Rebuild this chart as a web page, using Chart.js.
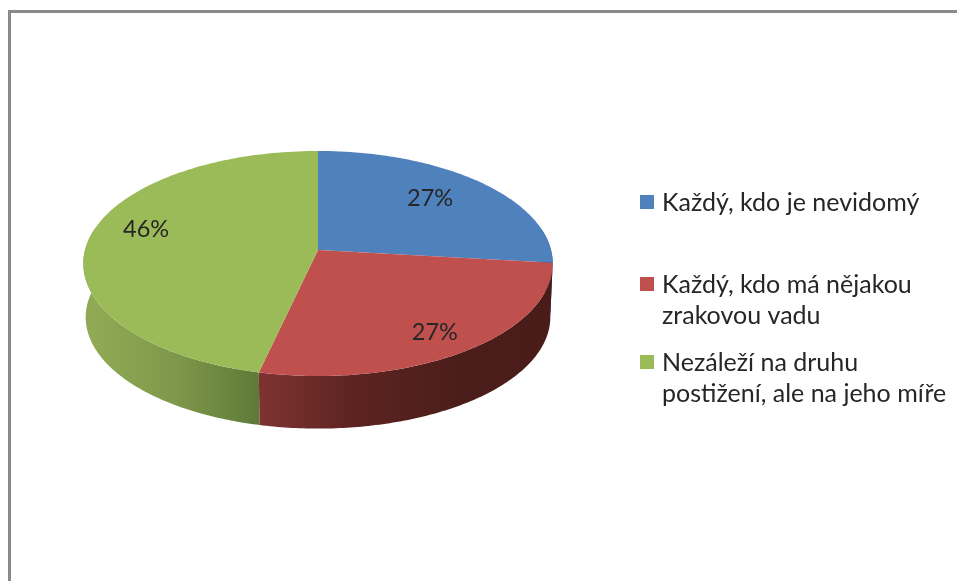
<!DOCTYPE html>
<html>
<head>
<meta charset="utf-8">
<script src="https://cdn.jsdelivr.net/npm/chart.js@4"></script>
<style>
  body { margin: 0; background: #fff; }
  canvas { display: block; }
</style>
</head>
<body>
<canvas id="myChart" width="957" height="581"></canvas>
<script>
const categories = [
  ["Každý, kdo je nevidomý"],
  ["Každý, kdo má nějakou", "zrakovou vadu"],
  ["Nezáleží na druhu", "postižení, ale na jeho míře"],
];
// printed as 27 / 27 / 46, decimals estimated from the slice edges
const values = [26.8, 26.8, 46.4];
const colors = ["#4f81bd", "#c0504d", "#9bbb59"];

// side wall shades, left to right
const wallColors = [
  ["#2f5380", "#2a4a73"],
  ["#7e3331", "#5c2320", "#4c1e1b", "#491c19"],
  ["#8fa954", "#7d984a", "#5f7a38"],
];

// the original is a perspective 3D pie
const squash = 0.476;
const tilt = -0.12;
const depth = 54;
const labelRadius = [0.68, 0.8, 0.75];
const labelShift = [-4, 4, -11];
const legendBaselines = [211, 293, 371];

function project(arc, angle, r) {
  const u = r * Math.cos(angle);
  const v = r * Math.sin(angle);
  const d = 1 + tilt * v;
  return {
    x: arc.x + (arc.outerRadius * u) / d,
    y: arc.y + (arc.outerRadius * squash * v) / d,
  };
}

function traceRim(ctx, arc, from, to, r, dy) {
  const steps = 120;
  for (let i = 0; i <= steps; i++) {
    const p = project(arc, from + ((to - from) * i) / steps, r);
    ctx.lineTo(p.x, p.y + dy);
  }
}

const pie3d = {
  id: "pie3d",
  beforeDraw(chart) {
    const ctx = chart.ctx;
    ctx.save();
    ctx.fillStyle = "#fff";
    ctx.fillRect(0, 0, chart.width, chart.height);
    ctx.fillStyle = "#8a8a8a";
    ctx.fillRect(8, 10, chart.width - 8, 3);
    ctx.fillRect(8, 10, 3, chart.height - 10);
    ctx.restore();
  },
  beforeDatasetsDraw(chart) {
    const ctx = chart.ctx;
    const arcs = chart.getDatasetMeta(0).data;

    arcs.forEach((arc, i) => {
      const from = Math.max(arc.startAngle, -0.2);
      const to = Math.min(arc.endAngle, Math.PI + 0.2);
      if (to <= from) return;
      const a = project(arc, from, 1).x;
      const b = project(arc, to, 1).x;
      const grad = ctx.createLinearGradient(Math.min(a, b), 0, Math.max(a, b), 0);
      wallColors[i].forEach((c, k) => {
        grad.addColorStop(k / (wallColors[i].length - 1), c);
      });
      ctx.beginPath();
      traceRim(ctx, arc, from, to, 1, 0);
      traceRim(ctx, arc, to, from, 0.99, depth);
      ctx.closePath();
      ctx.fillStyle = grad;
      ctx.fill();
    });

    arcs.forEach((arc, i) => {
      const apex = project(arc, 0, 0);
      ctx.beginPath();
      ctx.moveTo(apex.x, apex.y);
      traceRim(ctx, arc, arc.startAngle, arc.endAngle, 1, 0);
      ctx.closePath();
      ctx.fillStyle = colors[i];
      ctx.fill();
    });
    return false;
  },
  afterDraw(chart) {
    const ctx = chart.ctx;
    const arcs = chart.getDatasetMeta(0).data;
    const total = values.reduce((a, b) => a + b, 0);
    ctx.save();
    ctx.font = "23.5px Lato";
    ctx.fillStyle = "#262626";

    ctx.textAlign = "center";
    ctx.textBaseline = "middle";
    arcs.forEach((arc, i) => {
      const mid = (arc.startAngle + arc.endAngle) / 2;
      const p = project(arc, mid, labelRadius[i]);
      ctx.fillText(Math.round((values[i] / total) * 100) + "%", p.x, p.y + labelShift[i]);
    });

    ctx.font = "25px Lato";
    ctx.textAlign = "left";
    ctx.textBaseline = "alphabetic";
    categories.forEach((lines, i) => {
      const y = legendBaselines[i];
      ctx.fillStyle = colors[i];
      ctx.fillRect(640, y - 16, 14, 14);
      ctx.fillStyle = "#262626";
      lines.forEach((line, k) => {
        ctx.fillText(line, 662, y + k * 31);
      });
    });
    ctx.restore();
  },
};

new Chart(document.getElementById("myChart"), {
  type: "pie",
  data: {
    labels: categories,
    datasets: [{ data: values, backgroundColor: colors, borderWidth: 0 }],
  },
  options: {
    responsive: false,
    animation: false,
    layout: { padding: { left: 85, right: 406, top: 17, bottom: 98 } },
    plugins: { legend: { display: false }, tooltip: { enabled: false } },
  },
  plugins: [pie3d],
});
</script>
</body>
</html>
